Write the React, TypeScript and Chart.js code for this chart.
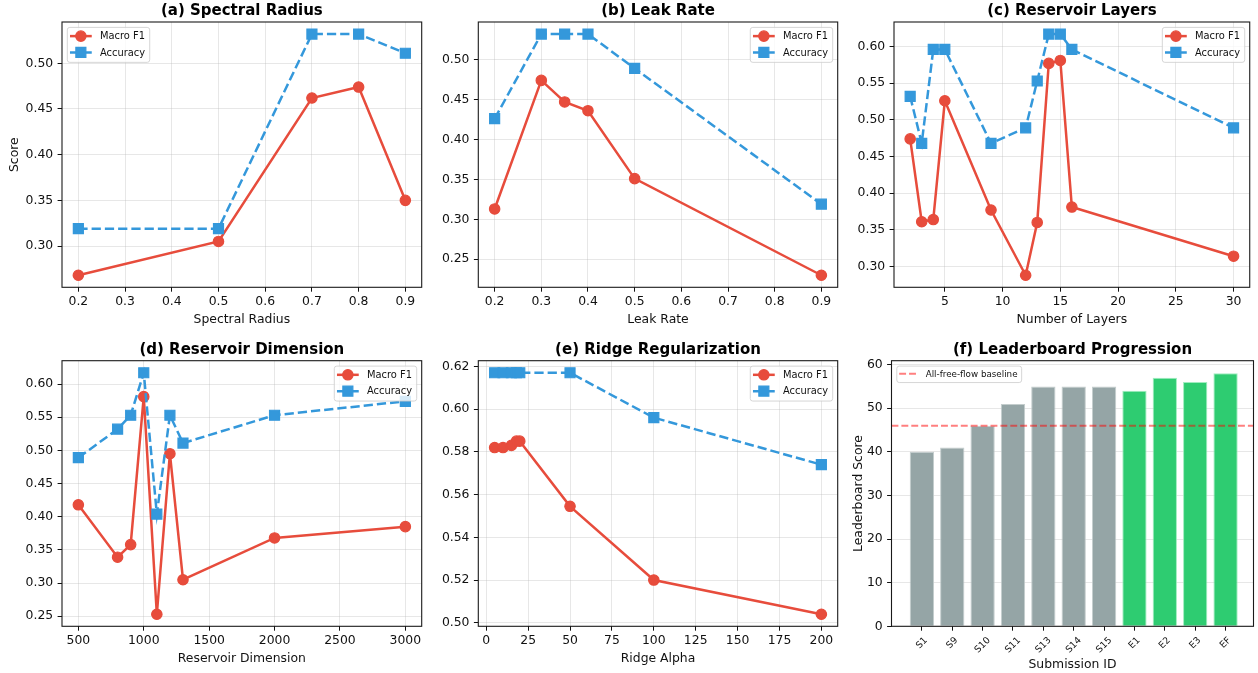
import { useEffect, useRef } from "react";
import { Chart, registerables } from "chart.js";

Chart.register(...registerables);

// ---------------- data ----------------
const SPECTRAL_RADIUS = [0.2, 0.5, 0.7, 0.8, 0.9];
const SPECTRAL_F1 = [0.268, 0.305, 0.462, 0.474, 0.35];
const SPECTRAL_ACC = [0.319, 0.319, 0.532, 0.532, 0.511];

const LEAK_RATE = [0.2, 0.3, 0.35, 0.4, 0.5, 0.9];
const LEAK_F1 = [0.313, 0.474, 0.447, 0.436, 0.351, 0.23];
const LEAK_ACC = [0.426, 0.532, 0.532, 0.532, 0.489, 0.319];

const LAYERS = [2, 3, 4, 5, 9, 12, 13, 14, 15, 16, 30];
const LAYERS_F1 = [0.474, 0.361, 0.364, 0.526, 0.377, 0.288, 0.36, 0.577, 0.581, 0.381, 0.314];
const LAYERS_ACC = [0.532, 0.468, 0.596, 0.596, 0.468, 0.489, 0.553, 0.617, 0.617, 0.596, 0.489];

const DIMENSION = [500, 800, 900, 1000, 1100, 1200, 1300, 2000, 3000];
const DIM_F1 = [0.418, 0.339, 0.358, 0.581, 0.253, 0.495, 0.305, 0.368, 0.385];
const DIM_ACC = [0.489, 0.532, 0.553, 0.617, 0.404, 0.553, 0.511, 0.553, 0.574];

const RIDGE_ALPHA = [5, 10, 15, 18, 20, 50, 100, 200];
const RIDGE_F1 = [0.582, 0.582, 0.583, 0.585, 0.585, 0.5545, 0.52, 0.504];
const RIDGE_ACC = [0.617, 0.617, 0.617, 0.617, 0.617, 0.617, 0.596, 0.574];

const SUBMISSIONS = ["S1", "S9", "S10", "S11", "S13", "S14", "S15", "E1", "E2", "E3", "EF"];
const LB_SCORES = [40, 41, 46, 51, 55, 55, 55, 54, 57, 56, 58];
const BASELINE_SCORE = 46;

// tick labels
const TICKS_RADIUS = [0.2, 0.3, 0.4, 0.5, 0.6, 0.7, 0.8, 0.9];
const TICKS_A_Y = [0.3, 0.35, 0.4, 0.45, 0.5];
const TICKS_LEAK = [0.2, 0.3, 0.4, 0.5, 0.6, 0.7, 0.8, 0.9];
const TICKS_B_Y = [0.25, 0.3, 0.35, 0.4, 0.45, 0.5];
const TICKS_LAYERS = [5, 10, 15, 20, 25, 30];
const TICKS_C_Y = [0.3, 0.35, 0.4, 0.45, 0.5, 0.55, 0.6];
const TICKS_DIM = [500, 1000, 1500, 2000, 2500, 3000];
const TICKS_D_Y = [0.25, 0.3, 0.35, 0.4, 0.45, 0.5, 0.55, 0.6];
const TICKS_ALPHA = [0, 25, 50, 75, 100, 125, 150, 175, 200];
const TICKS_E_Y = [0.5, 0.52, 0.54, 0.56, 0.58, 0.6, 0.62];
const TICKS_F_Y = [0, 10, 20, 30, 40, 50, 60];

// ---------------- style ----------------
const W = 1258;
const H = 673;
const FONT = "'DejaVu Sans', sans-serif";
const RED = "#e74c3c";
const BLUE = "#3498db";
const GRAY = "#95a5a6";
const GREEN = "#2ecc71";
const GRID = "rgba(176,176,176,0.3)";
const TICK_FS = 12.4;
const LABEL_FS = 12.4;
const TITLE_FS = 15;

type Area = { L: number; T: number; R: number; B: number };
type LegendItem = {
  label: string;
  color: string;
  dash: number[];
  lineWidth: number;
  marker: "circle" | "rect" | null;
};

function padRange(vals: number[], frac = 0.05): [number, number] {
  const mn = Math.min(...vals);
  const mx = Math.max(...vals);
  const d = (mx - mn) * frac;
  return [mn - d, mx + d];
}

function drawMarker(ctx: CanvasRenderingContext2D, kind: string, x: number, y: number, color: string) {
  ctx.save();
  ctx.setLineDash([]);
  ctx.fillStyle = color;
  ctx.strokeStyle = color;
  ctx.lineWidth = 1.2;
  ctx.beginPath();
  if (kind === "circle") {
    ctx.arc(x, y, 5.2, 0, Math.PI * 2);
  } else {
    ctx.rect(x - 5, y - 5, 10, 10);
  }
  ctx.fill();
  ctx.stroke();
  ctx.restore();
}

function drawLegend(
  ctx: CanvasRenderingContext2D,
  ca: { left: number; right: number; top: number },
  side: "left" | "right",
  fs: number,
  items: LegendItem[]
) {
  ctx.save();
  ctx.font = `${fs}px ${FONT}`;
  const tw = Math.max(...items.map((i) => ctx.measureText(i.label).width));
  const w = 0.27 * fs + 3.03 * fs + tw + 0.47 * fs;
  const h = 0.88 * fs + 1.65 * fs * (items.length - 1) + 1.0 * fs;
  const x = side === "left" ? ca.left + 5.3 : ca.right - 5 - w;
  const y = ca.top + 5.4;
  ctx.beginPath();
  ctx.roundRect(x, y, w, h, 2.5);
  ctx.fillStyle = "rgba(255,255,255,0.8)";
  ctx.fill();
  ctx.strokeStyle = "rgba(204,204,204,0.8)";
  ctx.lineWidth = 1;
  ctx.stroke();
  items.forEach((it, i) => {
    const yc = y + 0.88 * fs + i * 1.65 * fs;
    const hx = x + 0.27 * fs;
    const hl = 2.2 * fs;
    ctx.save();
    ctx.strokeStyle = it.color;
    ctx.lineWidth = it.lineWidth;
    ctx.setLineDash(it.dash);
    ctx.beginPath();
    ctx.moveTo(hx, yc);
    ctx.lineTo(hx + hl, yc);
    ctx.stroke();
    ctx.restore();
    if (it.marker) drawMarker(ctx, it.marker, hx + hl / 2, yc, it.color);
    ctx.fillStyle = "#111";
    ctx.textAlign = "left";
    ctx.textBaseline = "middle";
    ctx.fillText(it.label, x + 3.3 * fs, yc + 0.5);
  });
  ctx.restore();
}

type DecorOpts = {
  title: string;
  xlabel: string;
  xlabelOffset: number;
  ylabel?: string;
  ylabelOffset?: number;
  legendSide: "left" | "right";
  legendFs: number;
  legendItems: LegendItem[];
  baseline?: number;
  rotatedLabels?: string[];
};

function decorPlugin(o: DecorOpts) {
  return {
    id: "decor",
    afterDatasetsDraw(chart: any) {
      if (o.baseline === undefined) return;
      const ctx: CanvasRenderingContext2D = chart.ctx;
      const ca = chart.chartArea;
      const py = chart.scales.y.getPixelForValue(o.baseline);
      ctx.save();
      ctx.strokeStyle = "rgba(255,0,0,0.5)";
      ctx.lineWidth = 1.9;
      ctx.setLineDash([6.9, 3]);
      ctx.beginPath();
      ctx.moveTo(ca.left, py);
      ctx.lineTo(ca.right, py);
      ctx.stroke();
      ctx.restore();
    },
    afterDraw(chart: any) {
      const ctx: CanvasRenderingContext2D = chart.ctx;
      const ca = chart.chartArea;
      ctx.save();
      // rotated tick labels
      if (o.rotatedLabels) {
        const fs = 9.3;
        ctx.font = `${fs}px ${FONT}`;
        ctx.fillStyle = "#111";
        o.rotatedLabels.forEach((lab, i) => {
          const px = chart.scales.x.getPixelForValue(i);
          const tw = ctx.measureText(lab).width;
          const bh = (tw + 1.17 * fs) * Math.SQRT1_2;
          ctx.save();
          ctx.translate(px, ca.bottom + 8.8 + bh / 2);
          ctx.rotate(-Math.PI / 4);
          ctx.textAlign = "center";
          ctx.textBaseline = "middle";
          ctx.fillText(lab, 0, 0);
          ctx.restore();
        });
      }
      // frame
      ctx.strokeStyle = "#1a1a1a";
      ctx.lineWidth = 1.1;
      ctx.strokeRect(ca.left, ca.top, ca.right - ca.left, ca.bottom - ca.top);
      // title
      ctx.fillStyle = "#000";
      ctx.font = `bold ${TITLE_FS}px ${FONT}`;
      ctx.textAlign = "center";
      ctx.textBaseline = "alphabetic";
      ctx.fillText(o.title, (ca.left + ca.right) / 2, ca.top - 7);
      // x label
      ctx.font = `${LABEL_FS}px ${FONT}`;
      ctx.fillStyle = "#111";
      ctx.fillText(o.xlabel, (ca.left + ca.right) / 2, ca.bottom + o.xlabelOffset);
      // y label
      if (o.ylabel) {
        ctx.save();
        ctx.translate(ca.left - (o.ylabelOffset || 43.7), (ca.top + ca.bottom) / 2);
        ctx.rotate(-Math.PI / 2);
        ctx.textAlign = "center";
        ctx.textBaseline = "alphabetic";
        ctx.fillText(o.ylabel, 0, 0);
        ctx.restore();
      }
      drawLegend(ctx, ca, o.legendSide, o.legendFs, o.legendItems);
      ctx.restore();
    },
  };
}

const LINE_LEGEND: LegendItem[] = [
  { label: "Macro F1", color: RED, dash: [], lineWidth: 2.5, marker: "circle" },
  { label: "Accuracy", color: BLUE, dash: [9.25, 4], lineWidth: 2.5, marker: "rect" },
];

function axisCommon(ticks: number[], dec: number, fixed: (s: any) => void) {
  return {
    type: "linear" as const,
    afterBuildTicks: (s: any) => {
      s.ticks = ticks.map((v) => ({ value: v }));
    },
    afterFit: fixed,
    ticks: {
      autoSkip: false,
      maxRotation: 0,
      minRotation: 0,
      color: "#111",
      font: { family: FONT, size: TICK_FS },
      callback: (v: any) => Number(v).toFixed(dec),
    },
    grid: {
      color: GRID,
      lineWidth: 1,
      tickColor: "#111",
      tickLength: 4.4,
      tickWidth: 1,
    },
    border: { display: false },
  };
}

type LineSpec = {
  area: Area;
  title: string;
  xlabel: string;
  ylabel?: string;
  xs: number[];
  f1: number[];
  acc: number[];
  xTicks: number[];
  yTicks: number[];
  xDec: number;
  yDec: number;
  legendSide: "left" | "right";
};

const YW = 50;
const XH = 30;

function lineConfig(s: LineSpec): any {
  const [xmin, xmax] = padRange(s.xs);
  const [ymin, ymax] = padRange([...s.f1, ...s.acc]);
  const { L, T, R, B } = s.area;
  const xAxis: any = axisCommon(s.xTicks, s.xDec, (sc: any) => {
    sc.height = XH;
    sc.paddingLeft = 0;
    sc.paddingRight = 0;
  });
  xAxis.min = xmin;
  xAxis.max = xmax;
  xAxis.ticks.padding = 2.6;
  const yAxis: any = axisCommon(s.yTicks, s.yDec, (sc: any) => {
    sc.width = YW;
    sc.paddingTop = 0;
    sc.paddingBottom = 0;
  });
  yAxis.min = ymin;
  yAxis.max = ymax;
  yAxis.ticks.padding = 4.4;
  return {
    type: "line",
    data: {
      datasets: [
        {
          label: "Macro F1",
          data: s.xs.map((x, i) => ({ x, y: s.f1[i] })),
          borderColor: RED,
          backgroundColor: RED,
          borderWidth: 2.5,
          pointStyle: "circle",
          pointRadius: 5.2,
          pointBorderWidth: 1.2,
          pointBackgroundColor: RED,
          pointBorderColor: RED,
          tension: 0,
          order: 1,
          clip: false,
        },
        {
          label: "Accuracy",
          data: s.xs.map((x, i) => ({ x, y: s.acc[i] })),
          borderColor: BLUE,
          backgroundColor: BLUE,
          borderWidth: 2.5,
          borderDash: [9.25, 4],
          pointStyle: "rect",
          pointRadius: 7.07,
          pointBorderWidth: 1.2,
          pointBackgroundColor: BLUE,
          pointBorderColor: BLUE,
          tension: 0,
          order: 0,
          clip: false,
        },
      ],
    },
    options: {
      responsive: false,
      animation: false,
      events: [],
      layout: { padding: { left: L - YW, top: T, right: W - R, bottom: H - B - XH } },
      plugins: { legend: { display: false }, tooltip: { enabled: false }, title: { display: false } },
      scales: { x: xAxis, y: yAxis },
    },
    plugins: [
      decorPlugin({
        title: s.title,
        xlabel: s.xlabel,
        xlabelOffset: 36,
        ylabel: s.ylabel,
        ylabelOffset: 43.7,
        legendSide: s.legendSide,
        legendFs: 9.9,
        legendItems: LINE_LEGEND,
      }),
    ],
  };
}

function barConfig(area: Area): any {
  const { L, T, R, B } = area;
  const FYW = 40;
  const xAxis: any = axisCommon(
    SUBMISSIONS.map((_, i) => i),
    0,
    (sc: any) => {
      sc.height = XH;
      sc.paddingLeft = 0;
      sc.paddingRight = 0;
    }
  );
  xAxis.min = -1.0;
  xAxis.max = SUBMISSIONS.length - 1 + 0.92;
  xAxis.offset = false;
  xAxis.grid = { ...xAxis.grid, offset: false, drawOnChartArea: false };
  xAxis.ticks.callback = () => "";
  const yAxis: any = axisCommon(TICKS_F_Y, 0, (sc: any) => {
    sc.width = FYW;
    sc.paddingTop = 0;
    sc.paddingBottom = 0;
  });
  yAxis.min = 0;
  yAxis.max = Math.max(...LB_SCORES) * 1.05;
  yAxis.ticks.padding = 4.4;
  const colors = SUBMISSIONS.map((s) => (s.startsWith("E") ? GREEN : GRAY));
  const edges = SUBMISSIONS.map((s) => (s.startsWith("E") ? "rgba(150,235,185,0.9)" : "rgba(190,200,200,0.9)"));
  return {
    type: "bar",
    data: {
      datasets: [
        {
          data: SUBMISSIONS.map((_, i) => ({ x: i, y: LB_SCORES[i] })),
          backgroundColor: colors,
          borderColor: edges,
          borderWidth: 1,
          barPercentage: 0.8,
          categoryPercentage: 1,
        },
      ],
    },
    options: {
      responsive: false,
      animation: false,
      events: [],
      layout: { padding: { left: L - FYW, top: T, right: W - R, bottom: H - B - XH } },
      plugins: { legend: { display: false }, tooltip: { enabled: false }, title: { display: false } },
      scales: { x: xAxis, y: yAxis },
    },
    plugins: [
      decorPlugin({
        title: "(f) Leaderboard Progression",
        xlabel: "Submission ID",
        xlabelOffset: 42,
        ylabel: "Leaderboard Score",
        ylabelOffset: 29.2,
        legendSide: "left",
        legendFs: 8.75,
        legendItems: [
          { label: "All-free-flow baseline", color: "rgba(255,0,0,0.5)", dash: [6.9, 3], lineWidth: 1.9, marker: null },
        ],
        baseline: BASELINE_SCORE,
        rotatedLabels: SUBMISSIONS,
      }),
    ],
  };
}

const ROW1 = { T: 22, B: 287.3 };
const ROW2 = { T: 360.7, B: 626.3 };

const LINE_SPECS: LineSpec[] = [
  {
    area: { L: 62, R: 421.7, ...ROW1 },
    title: "(a) Spectral Radius",
    xlabel: "Spectral Radius",
    ylabel: "Score",
    xs: SPECTRAL_RADIUS,
    f1: SPECTRAL_F1,
    acc: SPECTRAL_ACC,
    xTicks: TICKS_RADIUS,
    yTicks: TICKS_A_Y,
    xDec: 1,
    yDec: 2,
    legendSide: "left",
  },
  {
    area: { L: 478.3, R: 837.7, ...ROW1 },
    title: "(b) Leak Rate",
    xlabel: "Leak Rate",
    xs: LEAK_RATE,
    f1: LEAK_F1,
    acc: LEAK_ACC,
    xTicks: TICKS_LEAK,
    yTicks: TICKS_B_Y,
    xDec: 1,
    yDec: 2,
    legendSide: "right",
  },
  {
    area: { L: 894, R: 1254.3, ...ROW1 },
    title: "(c) Reservoir Layers",
    xlabel: "Number of Layers",
    xs: LAYERS,
    f1: LAYERS_F1,
    acc: LAYERS_ACC,
    xTicks: TICKS_LAYERS,
    yTicks: TICKS_C_Y,
    xDec: 0,
    yDec: 2,
    legendSide: "right",
  },
  {
    area: { L: 62, R: 421.7, ...ROW2 },
    title: "(d) Reservoir Dimension",
    xlabel: "Reservoir Dimension",
    xs: DIMENSION,
    f1: DIM_F1,
    acc: DIM_ACC,
    xTicks: TICKS_DIM,
    yTicks: TICKS_D_Y,
    xDec: 0,
    yDec: 2,
    legendSide: "right",
  },
  {
    area: { L: 478.3, R: 837.7, ...ROW2 },
    title: "(e) Ridge Regularization",
    xlabel: "Ridge Alpha",
    xs: RIDGE_ALPHA,
    f1: RIDGE_F1,
    acc: RIDGE_ACC,
    xTicks: TICKS_ALPHA,
    yTicks: TICKS_E_Y,
    xDec: 0,
    yDec: 2,
    legendSide: "right",
  },
];

const BAR_AREA: Area = { L: 891.5, R: 1253.5, ...ROW2 };

export default function App() {
  const refs = useRef<(HTMLCanvasElement | null)[]>([]);

  useEffect(() => {
    const charts: Chart[] = [];
    LINE_SPECS.forEach((spec, i) => {
      const c = refs.current[i];
      if (c) charts.push(new Chart(c, lineConfig(spec)));
    });
    const cb = refs.current[5];
    if (cb) charts.push(new Chart(cb, barConfig(BAR_AREA)));
    return () => charts.forEach((ch) => ch.destroy());
  }, []);

  return (
    <div
      style={{
        position: "absolute",
        left: 0,
        top: 0,
        width: W,
        height: H,
        overflow: "hidden",
        background: "#fff",
      }}
    >
      {[0, 1, 2, 3, 4, 5].map((i) => (
        <canvas
          key={i}
          ref={(el) => {
            refs.current[i] = el;
          }}
          width={W}
          height={H}
          style={{ position: "absolute", left: 0, top: 0, width: W, height: H }}
        />
      ))}
    </div>
  );
}
